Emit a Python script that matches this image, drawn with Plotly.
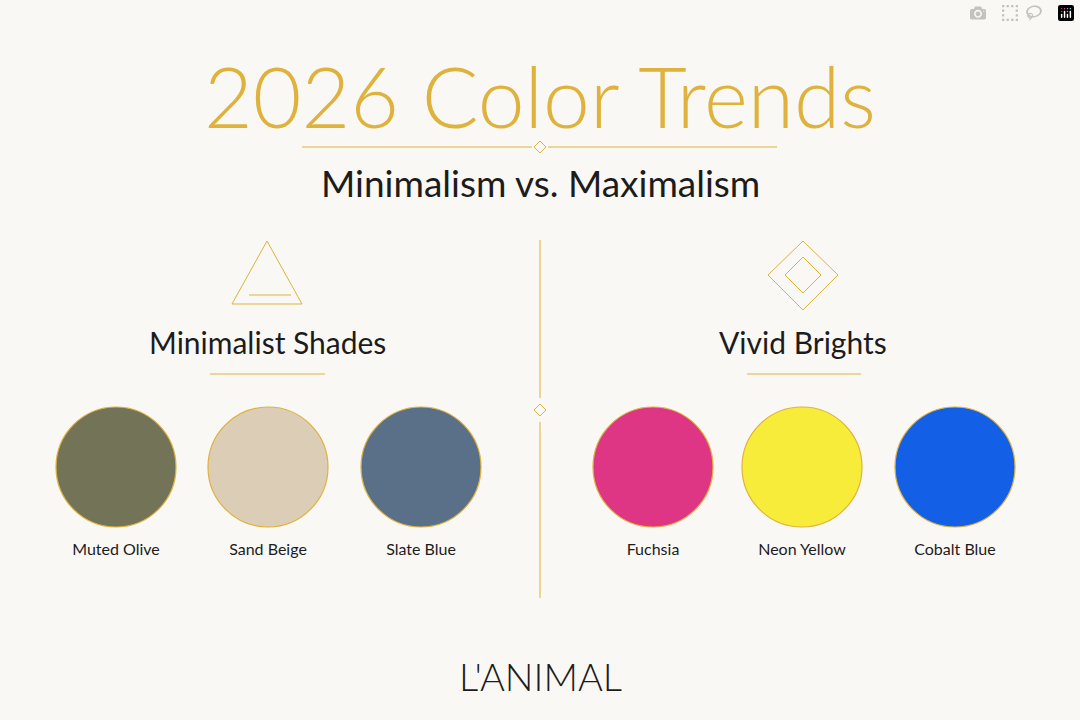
import plotly.graph_objects as go

minimal_names = ["Muted Olive", "Sand Beige", "Slate Blue"]
minimal_colors = ["#737357", "#dccdb7", "#5a7088"]
vivid_names = ["Fuchsia", "Neon Yellow", "Cobalt Blue"]
vivid_colors = ["#de3584", "#f8ec3a", "#135fe6"]

GOLD = "#deb23c"
BG = "#faf8f5"
TEXT = "#1c1c1c"

left_x = [116, 268, 421]
right_x = [653, 802, 955]
circle_y = 467

fig = go.Figure()

fig.add_trace(go.Scatter(
    x=left_x + right_x, y=[circle_y] * 6, mode="markers+text",
    marker=dict(size=120, color=minimal_colors + vivid_colors,
                line=dict(color=GOLD, width=1.2)),
    text=minimal_names + vivid_names, textposition="bottom center",
    textfont=dict(family="Lato", size=16, color=TEXT),
    hoverinfo="text", showlegend=False, cliponaxis=False,
))

shapes = []
gl = dict(color=GOLD, width=1)
# header rule
shapes.append(dict(type="line", x0=302, x1=532, y0=147, y1=147, line=gl))
shapes.append(dict(type="line", x0=548, x1=777, y0=147, y1=147, line=gl))
shapes.append(dict(type="path", path="M 540 141 L 546 147 L 540 153 L 534 147 Z", line=gl))
# center divider
shapes.append(dict(type="line", x0=540, x1=540, y0=240, y1=398, line=gl))
shapes.append(dict(type="line", x0=540, x1=540, y0=422, y1=598, line=gl))
shapes.append(dict(type="path", path="M 540 404 L 546 410 L 540 416 L 534 410 Z", line=gl))
# section rules
shapes.append(dict(type="line", x0=210, x1=325, y0=374, y1=374, line=gl))
shapes.append(dict(type="line", x0=747, x1=861, y0=374, y1=374, line=gl))
# triangle icon
shapes.append(dict(type="path", path="M 267 241 L 302 304 L 232 304 Z", line=gl))
shapes.append(dict(type="line", x0=249, x1=291, y0=295, y1=295, line=gl))
# diamond icon
shapes.append(dict(type="path", path="M 803 241 L 838 275 L 803 310 L 768 275 Z", line=gl))
shapes.append(dict(type="path", path="M 803 257 L 821 275 L 803 293 L 785 275 Z", line=gl))

annotations = [
    dict(x=540, y=95, text="2026 Color Trends",
         font=dict(family="Lato", size=84, color=GOLD, weight=300)),
    dict(x=540, y=182, text="Minimalism vs. Maximalism",
         font=dict(family="Lato", size=37, color=TEXT)),
    dict(x=267, y=342, text="Minimalist Shades",
         font=dict(family="Lato", size=30, color=TEXT)),
    dict(x=803, y=342, text="Vivid Brights",
         font=dict(family="Lato", size=30, color=TEXT)),
    dict(x=540, y=676, text="L'ANIMAL",
         font=dict(family="Lato", size=38, color=TEXT, weight=300)),
]
for a in annotations:
    a.update(xref="x", yref="y", showarrow=False)

fig.update_layout(
    width=1080, height=720, margin=dict(l=0, r=0, t=0, b=0),
    paper_bgcolor=BG, plot_bgcolor=BG,
    xaxis=dict(range=[0, 1080], visible=False, fixedrange=True),
    yaxis=dict(range=[720, 0], visible=False, fixedrange=True),
    shapes=shapes, annotations=annotations,
)

fig.write_html("out.html", post_script="document.body.style.margin='0';document.body.style.background='" + BG + "';")
